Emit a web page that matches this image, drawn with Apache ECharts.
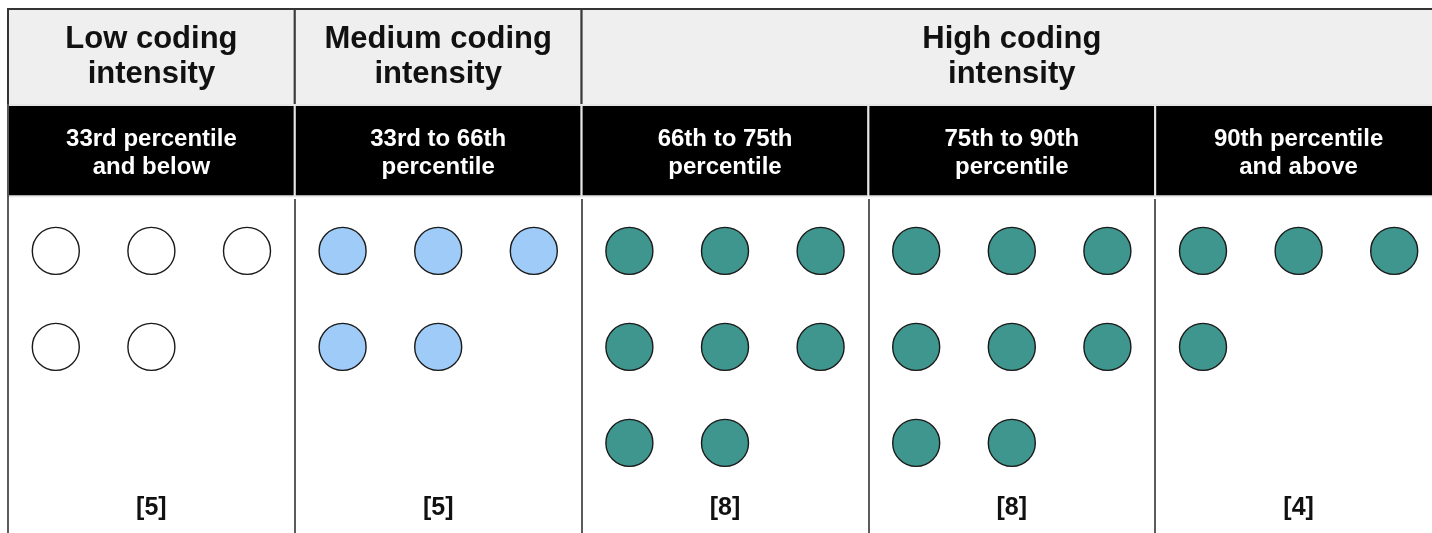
<!DOCTYPE html>
<html>
<head>
<meta charset="utf-8">
<script src="https://cdn.jsdelivr.net/npm/echarts@6/dist/echarts.min.js"></script>
<style>
html,body{margin:0;padding:0;background:#fff;}
#chart{width:1432px;height:533px;}
</style>
</head>
<body>
<div id="chart"></div>
<script>
// ---- data ----
const intensityGroups = ['Low coding\nintensity', 'Medium coding\nintensity', 'High coding\nintensity'];
const intensitySpans = [1, 1, 3];           // how many percentile bands each intensity group covers
const percentileBands = ['33rd percentile\nand below', '33rd to 66th\npercentile', '66th to 75th\npercentile', '75th to 90th\npercentile', '90th percentile\nand above'];
const bandCounts = [5, 5, 8, 8, 4];
const bandIntensity = ['low', 'medium', 'high', 'high', 'high'];

// ---- styles ----
const FONT = '"Liberation Sans", Arial, sans-serif';
const fills = { low: '#ffffff', medium: '#9ecbf7', high: '#3f968e' };
const PER_ROW = 3;
const ROW0 = 2.52;        // y (axis units) of first circle row
const HEADER_BOTTOM = 1;
const BAND_BOTTOM = 1.95;
const LABEL_Y = 5.2;
const Y_MAX = 5.5;
const X_MAX = percentileBands.length * PER_ROW;

// build unit points
function pointsFor(kind) {
  const pts = [];
  bandCounts.forEach((c, b) => {
    if (bandIntensity[b] !== kind) return;
    for (let i = 0; i < c; i++) {
      pts.push([b * PER_ROW + (i % PER_ROW) + 0.5, ROW0 + Math.floor(i / PER_ROW)]);
    }
  });
  return pts;
}

// header mark areas
const headerAreas = [];
let start = 0;
intensityGroups.forEach((name, k) => {
  const end = start + intensitySpans[k] * PER_ROW;
  headerAreas.push([
    { name: name, xAxis: start, yAxis: 0,
      itemStyle: { color: '#efefef', borderColor: '#3a3a3a', borderWidth: 2, opacity: 1 },
      label: { show: true, position: 'inside', color: '#111', fontFamily: FONT, fontWeight: 'bold', fontSize: 31, lineHeight: 35 } },
    { xAxis: end, yAxis: HEADER_BOTTOM }
  ]);
  start = end;
});
percentileBands.forEach((name, b) => {
  headerAreas.push([
    { name: name, xAxis: b * PER_ROW, yAxis: HEADER_BOTTOM,
      itemStyle: { color: '#000000', borderColor: '#e6e6e6', borderWidth: 2, opacity: 1 },
      label: { show: true, position: 'inside', offset: [0, 3], color: '#ffffff', fontFamily: FONT, fontWeight: 'bold', fontSize: 24, lineHeight: 28 } },
    { xAxis: (b + 1) * PER_ROW, yAxis: BAND_BOTTOM }
  ]);
});

// divider lines
const lines = [
  [{ coord: [0, 0] }, { coord: [X_MAX, 0] }],
  [{ coord: [0, 0] }, { coord: [0, Y_MAX] }]
];
for (let b = 1; b < percentileBands.length; b++) {
  lines.push([{ coord: [b * PER_ROW, BAND_BOTTOM + 0.03] }, { coord: [b * PER_ROW, Y_MAX] }]);
}

const countLabels = bandCounts.map((c, b) => [b * PER_ROW + PER_ROW / 2, LABEL_Y, c]);

const circleStyle = (kind) => ({ color: fills[kind], borderColor: '#1a1a1a', borderWidth: 1.4, opacity: 1 });

const chart = echarts.init(document.getElementById('chart'), null, { renderer: 'canvas' });
chart.setOption({
  animation: false,
  backgroundColor: '#ffffff',
  grid: { left: 8, top: 9, width: 1434, height: 528, outerBoundsMode: 'none', containLabel: false },
  xAxis: { type: 'value', min: 0, max: X_MAX, show: false },
  yAxis: { type: 'value', min: 0, max: Y_MAX, inverse: true, show: false },
  series: [
    {
      type: 'scatter', name: 'frame', data: [], clip: false, silent: true,
      markArea: { silent: true, data: headerAreas },
      markLine: { silent: true, symbol: ['none', 'none'], label: { show: false },
        lineStyle: { color: '#333', width: 1.6, type: 'solid', opacity: 1 }, data: lines }
    },
    { type: 'scatter', name: 'low', data: pointsFor('low'), symbol: 'circle', symbolSize: 47, itemStyle: circleStyle('low'), clip: false },
    { type: 'scatter', name: 'medium', data: pointsFor('medium'), symbol: 'circle', symbolSize: 47, itemStyle: circleStyle('medium'), clip: false },
    { type: 'scatter', name: 'high', data: pointsFor('high'), symbol: 'circle', symbolSize: 47, itemStyle: circleStyle('high'), clip: false },
    {
      type: 'scatter', name: 'counts', data: countLabels, symbolSize: 1, clip: false,
      itemStyle: { color: 'transparent', opacity: 1 },
      label: { show: true, position: 'inside', color: '#111', fontFamily: FONT, fontWeight: 'bold', fontSize: 25,
        formatter: (p) => '[' + p.value[2] + ']' }
    }
  ]
});
</script>
</body>
</html>
